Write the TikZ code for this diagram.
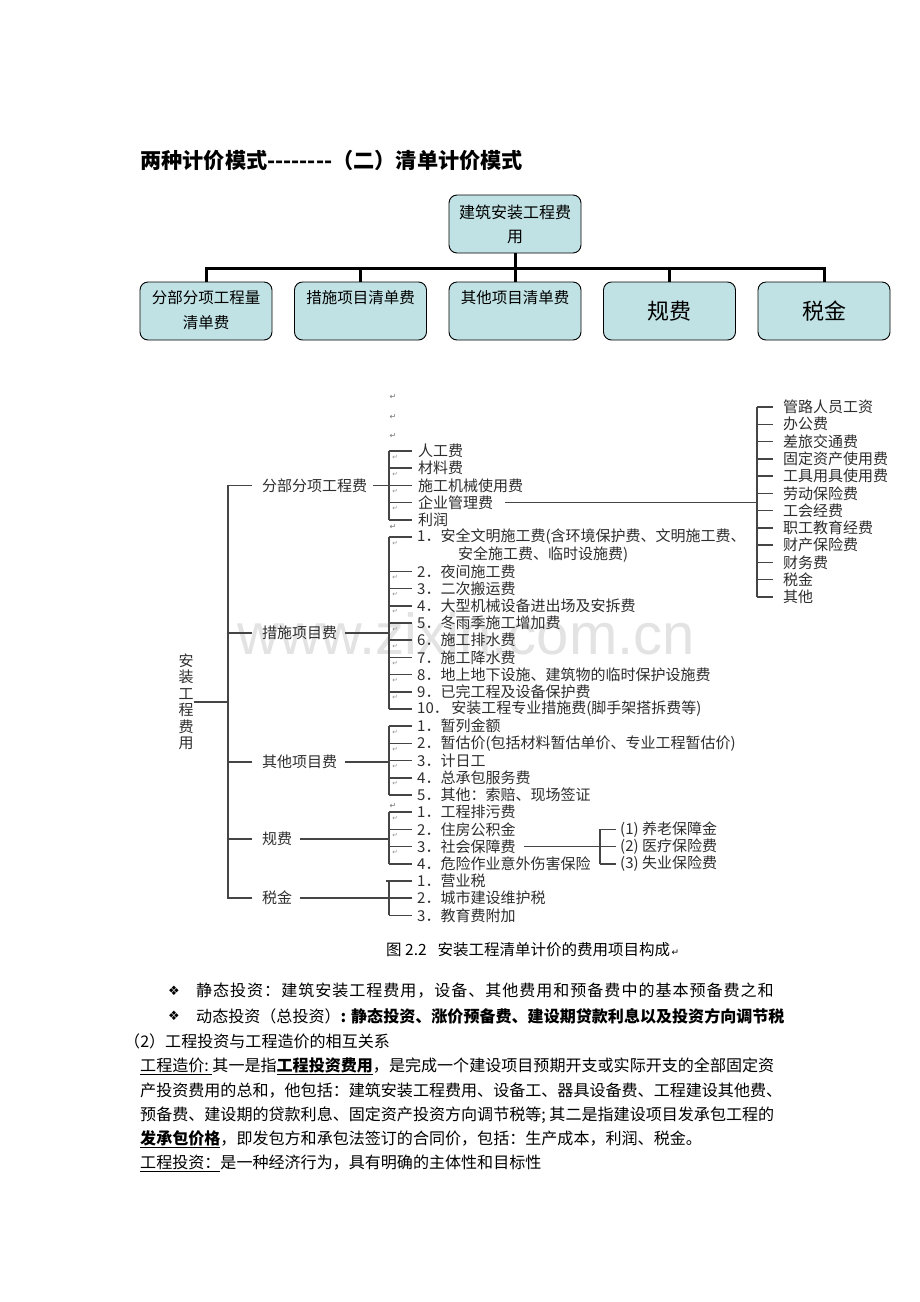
\documentclass[tikz,border=0pt]{standalone}
\usepackage{fontspec}
\setmainfont{Noto Sans CJK SC}
\newfontfamily\symfont{DejaVu Sans}
\newfontfamily\wmfont{Liberation Sans}
\definecolor{boxfill}{HTML}{C0E2E4}
\definecolor{fg}{HTML}{2E2E2E}
\definecolor{lnc}{HTML}{454545}
\newcommand{\fs}[1]{\fontsize{#1}{#1}\selectfont}
\tikzset{
  topbox/.style={draw=black, line width=0.9pt, fill=boxfill, rounded corners=8pt, minimum width=132pt, minimum height=58pt, inner sep=0},
  toptxt/.style={inner sep=0, align=center},
  bar/.style={line width=3pt},
  fl/.style={draw=lnc, line width=1.5pt},
  itm/.style={anchor=west, inner sep=0, text=fg, font=\fs{15}},
  ret/.style={inner sep=0, text=black!55, font=\symfont\fs{8}},
  hook/.style={inner sep=0, text=black!45, font=\symfont\fs{6.5}},
  body/.style={anchor=west, inner sep=0, font=\fs{16.05}},
}
\begin{document}
\begin{tikzpicture}[x=1pt,y=-1pt]
\useasboundingbox[fill=white] (0,0) rectangle (920,1302);

% title
\node[anchor=west, inner sep=0, font=\bfseries\fs{21.2}] (title) at (140,160) {两种计价模式-{}-{}-{}-{}-{}-{}-{}-（二）清单计价模式};

% top chart
\node[topbox] (root) at (515,224) {};
\node[toptxt, font=\fontsize{16}{24}\selectfont] (roott) at (515,224) {建筑安装工程费\\用};
\foreach \i/\x in {1/206,2/360.5,3/515,4/669.5,5/824}
  \node[topbox] (b\i) at (\x,311) {};
\node[toptxt, font=\fontsize{15.5}{25}\selectfont] (t1) at (206,310.5) {分部分项工程量\\清单费};
\node[toptxt, font=\fs{15.5}] (t2) at (360.5,298) {措施项目清单费};
\node[toptxt, font=\fs{15.5}] (t3) at (515,298) {其他项目清单费};
\node[toptxt, font=\fs{22}] (t4) at (669.5,311) {规费};
\node[toptxt, font=\fs{22}] (t5) at (824,311) {税金};
\coordinate (hbar) at (0,268);
\draw[bar] (root.south) -- (root.south |- hbar);
\draw[bar] (b1.north) -- (b1.north |- hbar) -- (b5.north |- hbar) -- (b5.north);
\foreach \i in {2,3,4} \draw[bar] (b\i.north) -- (b\i.north |- hbar);

% watermark
\node[inner sep=0, text=black!11, font=\wmfont\fs{58}] (wm) at (466,634) {www.zixin.com.cn};

% figure: root label
\node[inner sep=0, align=center, text=fg, font=\fontsize{15}{16.5}\selectfont] (az) at (186,702) {安\\装\\工\\程\\费\\用};
\coordinate (mb) at (228,0);
\coordinate (gb) at (389,0);
\coordinate (rb) at (757,0);
\coordinate (sb) at (600,0);

% level 1
\node[itm] (l1) at (262,485.4) {分部分项工程费};
\node[itm] (l2) at (262,633) {措施项目费};
\node[itm] (l3) at (262,762) {其他项目费};
\node[itm] (l4) at (262,839) {规费};
\node[itm] (l5) at (262,898.2) {税金};
\draw[fl] (az.east) -- (az.east -| mb);
\draw[fl] ([xshift=-10pt]l1.west) -- (l1.west -| mb) -- (l5.west -| mb) -- ([xshift=-10pt]l5.west);
\foreach \n in {2,3,4} \draw[fl] ([xshift=-10pt]l\n.west) -- (l\n.west -| mb);
\draw[fl] ([xshift=6pt]l1.east) -- ([xshift=8pt]l1.east -| gb);
\foreach \n in {2,3,4,5} \draw[fl] ([xshift=8pt]l\n.east) -- (l\n.east -| gb);

% group 1
\foreach \t [count=\j] in {人工费,材料费,施工机械使用费,企业管理费,利润}
  \node[itm] (a\j) at (418,451+17.2*\j-17.2) {\t};
\draw[fl] (gb |- a1.west) -- (gb |- a5.west);
\foreach \j in {1,...,5} \draw[fl] (gb |- a\j.west) -- ++(23,0);
\foreach \j in {1,...,4} \node[hook] (ha\j) at ([yshift=-6pt]gb |- a\j.west) [xshift=6pt] {↵};

% group 2
\node[itm] (c1) at (417,537) {1．安全文明施工费(含环境保护费、文明施工费、};
\node[itm] (c1b) at (458,554.2) {安全施工费、临时设施费)};
\foreach \t [count=\j from 2] in {夜间施工费,二次搬运费,大型机械设备进出场及安拆费,冬雨季施工增加费,施工排水费,施工降水费,地上地下设施、建筑物的临时保护设施费,已完工程及设备保护费}
  \node[itm] (c\j) at (417,571.4+17.2*\j-34.4) {\j．\t};
\node[itm] (c10) at (417,709) {10．\,安装工程专业措施费(脚手架搭拆费等)};
\draw[fl] (gb |- c1.west) -- (gb |- c10.west);
\foreach \j in {1,...,10} \draw[fl] (gb |- c\j.west) -- ++(23,0);
\foreach \j in {1,...,9} \node[hook] (hc\j) at ([yshift=-6pt]gb |- c\j.west) [xshift=6pt] {↵};

% group 3
\foreach \t [count=\j] in {暂列金额,暂估价(包括材料暂估单价、专业工程暂估价),计日工,总承包服务费,其他：索赔、现场签证}
  \node[itm] (d\j) at (417,726.2+17.2*\j-17.2) {\j．\t};
\draw[fl] (gb |- d1.west) -- (gb |- d5.west);
\foreach \j in {1,...,5} \draw[fl] (gb |- d\j.west) -- ++(23,0);
\foreach \j in {1,...,4} \node[hook] (hd\j) at ([yshift=-6pt]gb |- d\j.west) [xshift=6pt] {↵};

% group 4
\foreach \t [count=\j] in {工程排污费,住房公积金,社会保障费,危险作业意外伤害保险}
  \node[itm] (e\j) at (417,812.2+17.2*\j-17.2) {\j．\t};
\draw[fl] (gb |- e1.west) -- (gb |- e4.west);
\foreach \j in {1,...,4} \draw[fl] (gb |- e\j.west) -- ++(23,0);
\foreach \j in {1,...,3} \node[hook] (he\j) at ([yshift=-6pt]gb |- e\j.west) [xshift=6pt] {↵};

% sub group of 社会保障费
\foreach \t [count=\j] in {(1) 养老保障金,(2) 医疗保险费,(3) 失业保险费}
  \node[itm] (s\j) at (620,829.4+17.2*\j-17.2) {\t};
\draw[fl] ([xshift=8pt]e3.east) -- (e3.east -| sb);
\draw[fl] (sb |- s1.west) -- (sb |- s3.west);
\foreach \j in {1,2,3} \draw[fl] (sb |- s\j.west) -- ++(16,0);

% group 5
\foreach \t [count=\j] in {营业税,城市建设维护税,教育费附加}
  \node[itm] (f\j) at (417,881+17.2*\j-17.2) {\j．\t};
\draw[fl] ([xshift=-3pt]gb |- f1.west) -- ([xshift=23pt]gb |- f1.west);
\draw[fl] (gb |- f1.west) -- (gb |- f3.west);
\foreach \j in {2,3} \draw[fl] (gb |- f\j.west) -- ++(23,0);

% right group (企业管理费)
\foreach \t [count=\j] in {管路人员工资,办公费,差旅交通费,固定资产使用费,工具用具使用费,劳动保险费,工会经费,职工教育经费,财产保险费,财务费,税金,其他}
  \node[itm] (r\j) at (783,407+17.27*\j-17.27) {\t};
\draw[fl] ([xshift=12pt]a4.east) -- (a4.east -| rb);
\draw[fl] (rb |- r1.west) -- (rb |- r12.west);
\foreach \j in {1,...,12} \draw[fl] (rb |- r\j.west) -- ++(16,0);

% paragraph marks
\foreach \y [count=\j] in {397,417,436,527,806}
  \node[ret] (rm\j) at (393,\y) {↵};

% caption
\node[anchor=west, inner sep=0, text=black, font=\fs{15.5}] (cap) at (386,950) {图 2.2\hspace{11pt}安装工程清单计价的费用项目构成{\symfont\fs{9}\,↵}};

% body text
\node[inner sep=0, font=\symfont\fs{13}] (bul1) at (174,991) {❖};
\node[inner sep=0, font=\symfont\fs{13}] (bul2) at (174,1016) {❖};
\node[body, font=\fs{16.05}\addfontfeature{LetterSpace=6}] (p1) at (196,991) {静态投资：建筑安装工程费用，设备、其他费用和预备费中的基本预备费之和};
\node[body] (p2) at (196,1016) {动态投资（总投资）{\bfseries : 静态投资、涨价预备费、建设期贷款利息以及投资方向调节税}};
\node[body] (p3) at (124,1041) {（2）工程投资与工程造价的相互关系};
\node[body] (p4) at (140,1066) {\underline{工程造价:\ }其一是指{\bfseries\underline{工程投资费用}}，是完成一个建设项目预期开支或实际开支的全部固定资};
\node[body] (p5) at (140,1091) {产投资费用的总和，他包括：建筑安装工程费用、设备工、器具设备费、工程建设其他费、};
\node[body] (p6) at (140,1115) {预备费、建设期的贷款利息、固定资产投资方向调节税等; 其二是指建设项目发承包工程的};
\node[body] (p7) at (140,1139) {{\bfseries\underline{发承包价格}}，即发包方和承包法签订的合同价，包括：生产成本，利润、税金。};
\node[body] (p8) at (140,1163) {\underline{工程投资：}是一种经济行为，具有明确的主体性和目标性};
\end{tikzpicture}
\end{document}
